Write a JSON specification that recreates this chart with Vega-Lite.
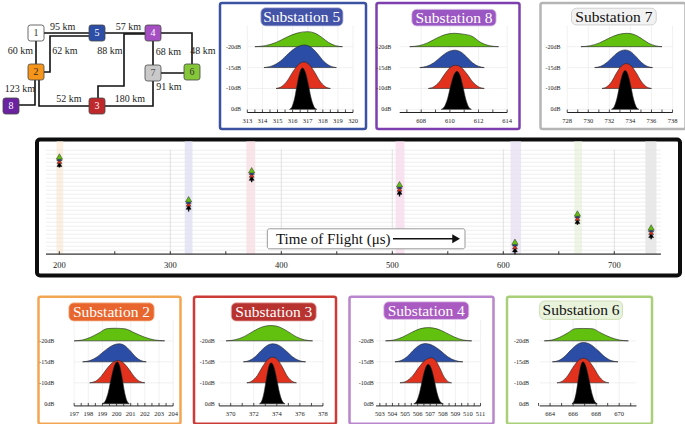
{
"$schema":"https://vega.github.io/schema/vega-lite/v6.json",
"background":"#ffffff",
"padding":{"left":0,"top":1,"right":0,"bottom":0},
"config":{"view":{"stroke":null},"font":"Liberation Serif"},
"datasets":{
"levels":[{"k":0,"lab":"0dB"},{"k":1,"lab":"-10dB"},{"k":2,"lab":"-15dB"},{"k":3,"lab":"-20dB"}],
"ticks":[
{"s":5,"t":313,"m":1},{"s":5,"t":313.5,"m":0},{"s":5,"t":314,"m":1},{"s":5,"t":314.5,"m":0},{"s":5,"t":315,"m":1},{"s":5,"t":315.5,"m":0},{"s":5,"t":316,"m":1},{"s":5,"t":316.5,"m":0},{"s":5,"t":317,"m":1},{"s":5,"t":317.5,"m":0},{"s":5,"t":318,"m":1},{"s":5,"t":318.5,"m":0},{"s":5,"t":319,"m":1},{"s":5,"t":319.5,"m":0},{"s":5,"t":320,"m":1},
{"s":8,"t":607,"m":0},{"s":8,"t":608,"m":1},{"s":8,"t":609,"m":0},{"s":8,"t":610,"m":1},{"s":8,"t":611,"m":0},{"s":8,"t":612,"m":1},{"s":8,"t":613,"m":0},{"s":8,"t":614,"m":1},
{"s":7,"t":728,"m":1},{"s":7,"t":729,"m":0},{"s":7,"t":730,"m":1},{"s":7,"t":731,"m":0},{"s":7,"t":732,"m":1},{"s":7,"t":733,"m":0},{"s":7,"t":734,"m":1},{"s":7,"t":735,"m":0},{"s":7,"t":736,"m":1},{"s":7,"t":737,"m":0},{"s":7,"t":738,"m":1},
{"s":2,"t":197,"m":1},{"s":2,"t":197.5,"m":0},{"s":2,"t":198,"m":1},{"s":2,"t":198.5,"m":0},{"s":2,"t":199,"m":1},{"s":2,"t":199.5,"m":0},{"s":2,"t":200,"m":1},{"s":2,"t":200.5,"m":0},{"s":2,"t":201,"m":1},{"s":2,"t":201.5,"m":0},{"s":2,"t":202,"m":1},{"s":2,"t":202.5,"m":0},{"s":2,"t":203,"m":1},{"s":2,"t":203.5,"m":0},{"s":2,"t":204,"m":1},
{"s":3,"t":369,"m":0},{"s":3,"t":370,"m":1},{"s":3,"t":371,"m":0},{"s":3,"t":372,"m":1},{"s":3,"t":373,"m":0},{"s":3,"t":374,"m":1},{"s":3,"t":375,"m":0},{"s":3,"t":376,"m":1},{"s":3,"t":377,"m":0},{"s":3,"t":378,"m":1},
{"s":4,"t":503,"m":1},{"s":4,"t":503.5,"m":0},{"s":4,"t":504,"m":1},{"s":4,"t":504.5,"m":0},{"s":4,"t":505,"m":1},{"s":4,"t":505.5,"m":0},{"s":4,"t":506,"m":1},{"s":4,"t":506.5,"m":0},{"s":4,"t":507,"m":1},{"s":4,"t":507.5,"m":0},{"s":4,"t":508,"m":1},{"s":4,"t":508.5,"m":0},{"s":4,"t":509,"m":1},{"s":4,"t":509.5,"m":0},{"s":4,"t":510,"m":1},{"s":4,"t":510.5,"m":0},{"s":4,"t":511,"m":1},
{"s":6,"t":663,"m":0},{"s":6,"t":664,"m":1},{"s":6,"t":665,"m":0},{"s":6,"t":666,"m":1},{"s":6,"t":667,"m":0},{"s":6,"t":668,"m":1},{"s":6,"t":669,"m":0},{"s":6,"t":670,"m":1},{"s":6,"t":671,"m":0}
],
"ridges":[
{"s":5,"c":"g","k":3,"x":313.5,"v":3},{"s":5,"c":"g","k":3,"x":314.2,"v":3.05},{"s":5,"c":"g","k":3,"x":314.9,"v":3.2},{"s":5,"c":"g","k":3,"x":315.6,"v":3.45},{"s":5,"c":"g","k":3,"x":316.3,"v":3.65},{"s":5,"c":"g","k":3,"x":317.0,"v":3.72},{"s":5,"c":"g","k":3,"x":317.46,"v":3.65},{"s":5,"c":"g","k":3,"x":317.92,"v":3.45},{"s":5,"c":"g","k":3,"x":318.38,"v":3.2},{"s":5,"c":"g","k":3,"x":318.84,"v":3.05},{"s":5,"c":"g","k":3,"x":319.3,"v":3},
{"s":5,"c":"b","k":2,"x":314.1,"v":2},{"s":5,"c":"b","k":2,"x":314.64,"v":2.08},{"s":5,"c":"b","k":2,"x":315.18,"v":2.3},{"s":5,"c":"b","k":2,"x":315.72,"v":2.67},{"s":5,"c":"b","k":2,"x":316.26,"v":2.97},{"s":5,"c":"b","k":2,"x":316.8,"v":3.08},{"s":5,"c":"b","k":2,"x":317.22,"v":2.97},{"s":5,"c":"b","k":2,"x":317.64,"v":2.67},{"s":5,"c":"b","k":2,"x":318.06,"v":2.3},{"s":5,"c":"b","k":2,"x":318.48,"v":2.08},{"s":5,"c":"b","k":2,"x":318.9,"v":2},
{"s":5,"c":"r","k":1,"x":314.9,"v":1},{"s":5,"c":"r","k":1,"x":315.27,"v":1.09},{"s":5,"c":"r","k":1,"x":315.64,"v":1.36},{"s":5,"c":"r","k":1,"x":316.01,"v":1.79},{"s":5,"c":"r","k":1,"x":316.38,"v":2.14},{"s":5,"c":"r","k":1,"x":316.75,"v":2.27},{"s":5,"c":"r","k":1,"x":317.1,"v":2.14},{"s":5,"c":"r","k":1,"x":317.45,"v":1.79},{"s":5,"c":"r","k":1,"x":317.8,"v":1.36},{"s":5,"c":"r","k":1,"x":318.15,"v":1.09},{"s":5,"c":"r","k":1,"x":318.5,"v":1},
{"s":5,"c":"k","k":0,"x":315.8,"v":0},{"s":5,"c":"k","k":0,"x":315.97,"v":0.14},{"s":5,"c":"k","k":0,"x":316.14,"v":0.55},{"s":5,"c":"k","k":0,"x":316.31,"v":1.23},{"s":5,"c":"k","k":0,"x":316.48,"v":1.78},{"s":5,"c":"k","k":0,"x":316.65,"v":1.98},{"s":5,"c":"k","k":0,"x":316.84,"v":1.78},{"s":5,"c":"k","k":0,"x":317.03,"v":1.23},{"s":5,"c":"k","k":0,"x":317.22,"v":0.55},{"s":5,"c":"k","k":0,"x":317.41,"v":0.14},{"s":5,"c":"k","k":0,"x":317.6,"v":0},
{"s":8,"c":"g","k":3,"x":607.2,"v":3},{"s":8,"c":"g","k":3,"x":607.82,"v":3.045},{"s":8,"c":"g","k":3,"x":608.44,"v":3.18},{"s":8,"c":"g","k":3,"x":609.06,"v":3.4},{"s":8,"c":"g","k":3,"x":609.68,"v":3.58},{"s":8,"c":"g","k":3,"x":610.3,"v":3.64},{"s":8,"c":"g","k":3,"x":610.92,"v":3.6},{"s":8,"c":"g","k":3,"x":611.54,"v":3.5},{"s":8,"c":"g","k":3,"x":612.16,"v":3.2},{"s":8,"c":"g","k":3,"x":612.78,"v":3.045},{"s":8,"c":"g","k":3,"x":613.4,"v":3},
{"s":8,"c":"b","k":2,"x":607.9,"v":2},{"s":8,"c":"b","k":2,"x":608.39,"v":2.06},{"s":8,"c":"b","k":2,"x":608.88,"v":2.23},{"s":8,"c":"b","k":2,"x":609.37,"v":2.51},{"s":8,"c":"b","k":2,"x":609.86,"v":2.75},{"s":8,"c":"b","k":2,"x":610.35,"v":2.83},{"s":8,"c":"b","k":2,"x":610.76,"v":2.75},{"s":8,"c":"b","k":2,"x":611.17,"v":2.51},{"s":8,"c":"b","k":2,"x":611.58,"v":2.23},{"s":8,"c":"b","k":2,"x":611.99,"v":2.06},{"s":8,"c":"b","k":2,"x":612.4,"v":2},
{"s":8,"c":"r","k":1,"x":608.5,"v":1},{"s":8,"c":"r","k":1,"x":608.88,"v":1.08},{"s":8,"c":"r","k":1,"x":609.26,"v":1.31},{"s":8,"c":"r","k":1,"x":609.64,"v":1.69},{"s":8,"c":"r","k":1,"x":610.02,"v":2.0},{"s":8,"c":"r","k":1,"x":610.4,"v":2.11},{"s":8,"c":"r","k":1,"x":610.8,"v":2.0},{"s":8,"c":"r","k":1,"x":611.2,"v":1.69},{"s":8,"c":"r","k":1,"x":611.6,"v":1.31},{"s":8,"c":"r","k":1,"x":612.0,"v":1.08},{"s":8,"c":"r","k":1,"x":612.4,"v":1},
{"s":8,"c":"k","k":0,"x":609.4,"v":0},{"s":8,"c":"k","k":0,"x":609.62,"v":0.13},{"s":8,"c":"k","k":0,"x":609.84,"v":0.51},{"s":8,"c":"k","k":0,"x":610.06,"v":1.13},{"s":8,"c":"k","k":0,"x":610.28,"v":1.64},{"s":8,"c":"k","k":0,"x":610.5,"v":1.82},{"s":8,"c":"k","k":0,"x":610.7,"v":1.64},{"s":8,"c":"k","k":0,"x":610.9,"v":1.13},{"s":8,"c":"k","k":0,"x":611.1,"v":0.51},{"s":8,"c":"k","k":0,"x":611.3,"v":0.13},{"s":8,"c":"k","k":0,"x":611.5,"v":0},
{"s":7,"c":"g","k":3,"x":729.3,"v":3},{"s":7,"c":"g","k":3,"x":730.18,"v":3.045},{"s":7,"c":"g","k":3,"x":731.06,"v":3.18},{"s":7,"c":"g","k":3,"x":731.94,"v":3.4},{"s":7,"c":"g","k":3,"x":732.82,"v":3.58},{"s":7,"c":"g","k":3,"x":733.7,"v":3.64},{"s":7,"c":"g","k":3,"x":734.36,"v":3.58},{"s":7,"c":"g","k":3,"x":735.02,"v":3.4},{"s":7,"c":"g","k":3,"x":735.68,"v":3.18},{"s":7,"c":"g","k":3,"x":736.34,"v":3.045},{"s":7,"c":"g","k":3,"x":737.0,"v":3},
{"s":7,"c":"b","k":2,"x":730.6,"v":2},{"s":7,"c":"b","k":2,"x":731.18,"v":2.06},{"s":7,"c":"b","k":2,"x":731.76,"v":2.24},{"s":7,"c":"b","k":2,"x":732.34,"v":2.52},{"s":7,"c":"b","k":2,"x":732.92,"v":2.76},{"s":7,"c":"b","k":2,"x":733.5,"v":2.84},{"s":7,"c":"b","k":2,"x":734.02,"v":2.76},{"s":7,"c":"b","k":2,"x":734.54,"v":2.52},{"s":7,"c":"b","k":2,"x":735.06,"v":2.24},{"s":7,"c":"b","k":2,"x":735.58,"v":2.06},{"s":7,"c":"b","k":2,"x":736.1,"v":2},
{"s":7,"c":"r","k":1,"x":731.3,"v":1},{"s":7,"c":"r","k":1,"x":731.76,"v":1.08},{"s":7,"c":"r","k":1,"x":732.22,"v":1.33},{"s":7,"c":"r","k":1,"x":732.68,"v":1.74},{"s":7,"c":"r","k":1,"x":733.14,"v":2.07},{"s":7,"c":"r","k":1,"x":733.6,"v":2.19},{"s":7,"c":"r","k":1,"x":734.08,"v":2.07},{"s":7,"c":"r","k":1,"x":734.56,"v":1.74},{"s":7,"c":"r","k":1,"x":735.04,"v":1.33},{"s":7,"c":"r","k":1,"x":735.52,"v":1.08},{"s":7,"c":"r","k":1,"x":736.0,"v":1},
{"s":7,"c":"k","k":0,"x":732.2,"v":0},{"s":7,"c":"k","k":0,"x":732.46,"v":0.13},{"s":7,"c":"k","k":0,"x":732.72,"v":0.52},{"s":7,"c":"k","k":0,"x":732.98,"v":1.15},{"s":7,"c":"k","k":0,"x":733.24,"v":1.67},{"s":7,"c":"k","k":0,"x":733.5,"v":1.86},{"s":7,"c":"k","k":0,"x":733.76,"v":1.67},{"s":7,"c":"k","k":0,"x":734.02,"v":1.15},{"s":7,"c":"k","k":0,"x":734.28,"v":0.52},{"s":7,"c":"k","k":0,"x":734.54,"v":0.13},{"s":7,"c":"k","k":0,"x":734.8,"v":0},
{"s":2,"c":"g","k":3,"x":197.0,"v":3},{"s":2,"c":"g","k":3,"x":197.58,"v":3.04},{"s":2,"c":"g","k":3,"x":198.16,"v":3.17},{"s":2,"c":"g","k":3,"x":198.74,"v":3.37},{"s":2,"c":"g","k":3,"x":199.32,"v":3.58},{"s":2,"c":"g","k":3,"x":199.9,"v":3.6},{"s":2,"c":"g","k":3,"x":200.6,"v":3.57},{"s":2,"c":"g","k":3,"x":201.3,"v":3.37},{"s":2,"c":"g","k":3,"x":202.0,"v":3.17},{"s":2,"c":"g","k":3,"x":202.7,"v":3.04},{"s":2,"c":"g","k":3,"x":203.4,"v":3},
{"s":2,"c":"b","k":2,"x":197.6,"v":2},{"s":2,"c":"b","k":2,"x":198.12,"v":2.06},{"s":2,"c":"b","k":2,"x":198.64,"v":2.24},{"s":2,"c":"b","k":2,"x":199.16,"v":2.53},{"s":2,"c":"b","k":2,"x":199.68,"v":2.77},{"s":2,"c":"b","k":2,"x":200.2,"v":2.86},{"s":2,"c":"b","k":2,"x":200.58,"v":2.77},{"s":2,"c":"b","k":2,"x":200.96,"v":2.53},{"s":2,"c":"b","k":2,"x":201.34,"v":2.24},{"s":2,"c":"b","k":2,"x":201.72,"v":2.06},{"s":2,"c":"b","k":2,"x":202.1,"v":2},
{"s":2,"c":"r","k":1,"x":198.1,"v":1},{"s":2,"c":"r","k":1,"x":198.5,"v":1.07},{"s":2,"c":"r","k":1,"x":198.9,"v":1.3},{"s":2,"c":"r","k":1,"x":199.3,"v":1.66},{"s":2,"c":"r","k":1,"x":199.7,"v":1.95},{"s":2,"c":"r","k":1,"x":200.1,"v":2.06},{"s":2,"c":"r","k":1,"x":200.48,"v":1.95},{"s":2,"c":"r","k":1,"x":200.86,"v":1.66},{"s":2,"c":"r","k":1,"x":201.24,"v":1.3},{"s":2,"c":"r","k":1,"x":201.62,"v":1.07},{"s":2,"c":"r","k":1,"x":202.0,"v":1},
{"s":2,"c":"k","k":0,"x":199.0,"v":0},{"s":2,"c":"k","k":0,"x":199.21,"v":0.14},{"s":2,"c":"k","k":0,"x":199.42,"v":0.56},{"s":2,"c":"k","k":0,"x":199.63,"v":1.24},{"s":2,"c":"k","k":0,"x":199.84,"v":1.8},{"s":2,"c":"k","k":0,"x":200.05,"v":2.0},{"s":2,"c":"k","k":0,"x":200.22,"v":1.8},{"s":2,"c":"k","k":0,"x":200.39,"v":1.24},{"s":2,"c":"k","k":0,"x":200.56,"v":0.56},{"s":2,"c":"k","k":0,"x":200.73,"v":0.14},{"s":2,"c":"k","k":0,"x":200.9,"v":0},
{"s":3,"c":"g","k":3,"x":369.6,"v":3},{"s":3,"c":"g","k":3,"x":370.38,"v":3.05},{"s":3,"c":"g","k":3,"x":371.16,"v":3.2},{"s":3,"c":"g","k":3,"x":371.94,"v":3.45},{"s":3,"c":"g","k":3,"x":372.72,"v":3.66},{"s":3,"c":"g","k":3,"x":373.5,"v":3.73},{"s":3,"c":"g","k":3,"x":374.22,"v":3.66},{"s":3,"c":"g","k":3,"x":374.94,"v":3.45},{"s":3,"c":"g","k":3,"x":375.66,"v":3.2},{"s":3,"c":"g","k":3,"x":376.38,"v":3.05},{"s":3,"c":"g","k":3,"x":377.1,"v":3},
{"s":3,"c":"b","k":2,"x":371.1,"v":2},{"s":3,"c":"b","k":2,"x":371.61,"v":2.06},{"s":3,"c":"b","k":2,"x":372.12,"v":2.24},{"s":3,"c":"b","k":2,"x":372.63,"v":2.53},{"s":3,"c":"b","k":2,"x":373.14,"v":2.77},{"s":3,"c":"b","k":2,"x":373.65,"v":2.86},{"s":3,"c":"b","k":2,"x":374.22,"v":2.77},{"s":3,"c":"b","k":2,"x":374.79,"v":2.53},{"s":3,"c":"b","k":2,"x":375.36,"v":2.24},{"s":3,"c":"b","k":2,"x":375.93,"v":2.06},{"s":3,"c":"b","k":2,"x":376.5,"v":2},
{"s":3,"c":"r","k":1,"x":371.4,"v":1},{"s":3,"c":"r","k":1,"x":371.85,"v":1.09},{"s":3,"c":"r","k":1,"x":372.3,"v":1.34},{"s":3,"c":"r","k":1,"x":372.75,"v":1.76},{"s":3,"c":"r","k":1,"x":373.2,"v":2.1},{"s":3,"c":"r","k":1,"x":373.65,"v":2.22},{"s":3,"c":"r","k":1,"x":374.06,"v":2.1},{"s":3,"c":"r","k":1,"x":374.47,"v":1.76},{"s":3,"c":"r","k":1,"x":374.88,"v":1.34},{"s":3,"c":"r","k":1,"x":375.29,"v":1.09},{"s":3,"c":"r","k":1,"x":375.7,"v":1},
{"s":3,"c":"k","k":0,"x":372.5,"v":0},{"s":3,"c":"k","k":0,"x":372.7,"v":0.14},{"s":3,"c":"k","k":0,"x":372.9,"v":0.55},{"s":3,"c":"k","k":0,"x":373.1,"v":1.21},{"s":3,"c":"k","k":0,"x":373.3,"v":1.76},{"s":3,"c":"k","k":0,"x":373.5,"v":1.95},{"s":3,"c":"k","k":0,"x":373.74,"v":1.76},{"s":3,"c":"k","k":0,"x":373.98,"v":1.21},{"s":3,"c":"k","k":0,"x":374.22,"v":0.55},{"s":3,"c":"k","k":0,"x":374.46,"v":0.14},{"s":3,"c":"k","k":0,"x":374.7,"v":0},
{"s":4,"c":"g","k":3,"x":503.45,"v":3},{"s":4,"c":"g","k":3,"x":504.13,"v":3.04},{"s":4,"c":"g","k":3,"x":504.81,"v":3.18},{"s":4,"c":"g","k":3,"x":505.49,"v":3.39},{"s":4,"c":"g","k":3,"x":506.17,"v":3.57},{"s":4,"c":"g","k":3,"x":506.85,"v":3.63},{"s":4,"c":"g","k":3,"x":507.54,"v":3.57},{"s":4,"c":"g","k":3,"x":508.23,"v":3.39},{"s":4,"c":"g","k":3,"x":508.92,"v":3.18},{"s":4,"c":"g","k":3,"x":509.61,"v":3.04},{"s":4,"c":"g","k":3,"x":510.3,"v":3},
{"s":4,"c":"b","k":2,"x":504.2,"v":2},{"s":4,"c":"b","k":2,"x":504.68,"v":2.06},{"s":4,"c":"b","k":2,"x":505.16,"v":2.24},{"s":4,"c":"b","k":2,"x":505.64,"v":2.54},{"s":4,"c":"b","k":2,"x":506.12,"v":2.78},{"s":4,"c":"b","k":2,"x":506.6,"v":2.87},{"s":4,"c":"b","k":2,"x":507.2,"v":2.78},{"s":4,"c":"b","k":2,"x":507.8,"v":2.54},{"s":4,"c":"b","k":2,"x":508.4,"v":2.24},{"s":4,"c":"b","k":2,"x":509.0,"v":2.06},{"s":4,"c":"b","k":2,"x":509.6,"v":2},
{"s":4,"c":"r","k":1,"x":504.6,"v":1},{"s":4,"c":"r","k":1,"x":505.1,"v":1.08},{"s":4,"c":"r","k":1,"x":505.6,"v":1.33},{"s":4,"c":"r","k":1,"x":506.1,"v":1.74},{"s":4,"c":"r","k":1,"x":506.6,"v":2.07},{"s":4,"c":"r","k":1,"x":507.1,"v":2.19},{"s":4,"c":"r","k":1,"x":507.42,"v":2.07},{"s":4,"c":"r","k":1,"x":507.74,"v":1.74},{"s":4,"c":"r","k":1,"x":508.06,"v":1.33},{"s":4,"c":"r","k":1,"x":508.38,"v":1.08},{"s":4,"c":"r","k":1,"x":508.7,"v":1},
{"s":4,"c":"k","k":0,"x":505.7,"v":0},{"s":4,"c":"k","k":0,"x":505.93,"v":0.13},{"s":4,"c":"k","k":0,"x":506.16,"v":0.53},{"s":4,"c":"k","k":0,"x":506.39,"v":1.17},{"s":4,"c":"k","k":0,"x":506.62,"v":1.69},{"s":4,"c":"k","k":0,"x":506.85,"v":1.88},{"s":4,"c":"k","k":0,"x":507.08,"v":1.69},{"s":4,"c":"k","k":0,"x":507.31,"v":1.17},{"s":4,"c":"k","k":0,"x":507.54,"v":0.53},{"s":4,"c":"k","k":0,"x":507.77,"v":0.13},{"s":4,"c":"k","k":0,"x":508.0,"v":0},
{"s":6,"c":"g","k":3,"x":663.5,"v":3},{"s":6,"c":"g","k":3,"x":664.17,"v":3.04},{"s":6,"c":"g","k":3,"x":664.84,"v":3.17},{"s":6,"c":"g","k":3,"x":665.51,"v":3.37},{"s":6,"c":"g","k":3,"x":666.18,"v":3.58},{"s":6,"c":"g","k":3,"x":666.85,"v":3.59},{"s":6,"c":"g","k":3,"x":667.64,"v":3.58},{"s":6,"c":"g","k":3,"x":668.43,"v":3.37},{"s":6,"c":"g","k":3,"x":669.22,"v":3.17},{"s":6,"c":"g","k":3,"x":670.01,"v":3.04},{"s":6,"c":"g","k":3,"x":670.8,"v":3},
{"s":6,"c":"b","k":2,"x":664.2,"v":2},{"s":6,"c":"b","k":2,"x":664.74,"v":2.06},{"s":6,"c":"b","k":2,"x":665.28,"v":2.26},{"s":6,"c":"b","k":2,"x":665.82,"v":2.57},{"s":6,"c":"b","k":2,"x":666.36,"v":2.83},{"s":6,"c":"b","k":2,"x":666.9,"v":2.92},{"s":6,"c":"b","k":2,"x":667.5,"v":2.83},{"s":6,"c":"b","k":2,"x":668.1,"v":2.57},{"s":6,"c":"b","k":2,"x":668.7,"v":2.26},{"s":6,"c":"b","k":2,"x":669.3,"v":2.06},{"s":6,"c":"b","k":2,"x":669.9,"v":2},
{"s":6,"c":"r","k":1,"x":664.6,"v":1},{"s":6,"c":"r","k":1,"x":665.06,"v":1.08},{"s":6,"c":"r","k":1,"x":665.52,"v":1.33},{"s":6,"c":"r","k":1,"x":665.98,"v":1.73},{"s":6,"c":"r","k":1,"x":666.44,"v":2.05},{"s":6,"c":"r","k":1,"x":666.9,"v":2.17},{"s":6,"c":"r","k":1,"x":667.34,"v":2.05},{"s":6,"c":"r","k":1,"x":667.78,"v":1.73},{"s":6,"c":"r","k":1,"x":668.22,"v":1.33},{"s":6,"c":"r","k":1,"x":668.66,"v":1.08},{"s":6,"c":"r","k":1,"x":669.1,"v":1},
{"s":6,"c":"k","k":0,"x":665.9,"v":0},{"s":6,"c":"k","k":0,"x":666.09,"v":0.14},{"s":6,"c":"k","k":0,"x":666.28,"v":0.56},{"s":6,"c":"k","k":0,"x":666.47,"v":1.24},{"s":6,"c":"k","k":0,"x":666.66,"v":1.8},{"s":6,"c":"k","k":0,"x":666.85,"v":2.0},{"s":6,"c":"k","k":0,"x":667.1,"v":1.8},{"s":6,"c":"k","k":0,"x":667.35,"v":1.24},{"s":6,"c":"k","k":0,"x":667.6,"v":0.56},{"s":6,"c":"k","k":0,"x":667.85,"v":0.14},{"s":6,"c":"k","k":0,"x":668.1,"v":0}
],
"bands":[{"s":"2","a":197.5,"b":203.5},{"s":"5","a":313,"b":320},{"s":"3","a":368.5,"b":376.5},{"s":"4","a":503,"b":511},{"s":"8","a":606.5,"b":616},{"s":"6","a":664,"b":671},{"s":"7","a":728,"b":738}],
"hgrid":[{"y":4},{"y":8},{"y":12},{"y":16},{"y":20},{"y":24},{"y":28},{"y":32},{"y":36},{"y":40},{"y":44},{"y":48},{"y":52},{"y":56},{"y":60},{"y":64},{"y":68},{"y":72},{"y":76},{"y":80},{"y":84},{"y":88},{"y":92},{"y":96},{"y":100},{"y":104}],
"mticks":[{"t":200,"m":1},{"t":250,"m":0},{"t":300,"m":1},{"t":350,"m":0},{"t":400,"m":1},{"t":450,"m":0},{"t":500,"m":1},{"t":550,"m":0},{"t":600,"m":1},{"t":650,"m":0},{"t":700,"m":1}],
"arrivals":[{"s":"2","t":200.1,"hi":98.7,"lo":86.7},{"s":"5","t":316.5,"hi":56,"lo":42.7},{"s":"3","t":373.3,"hi":85,"lo":72},{"s":"4","t":506.5,"hi":71,"lo":57.7},{"s":"8","t":610.5,"hi":13.4,"lo":0},{"s":"6","t":666.8,"hi":41.7,"lo":29.4},{"s":"7","t":733.2,"hi":27.7,"lo":15}],
"nodes":[{"n":"1","x":36,"y":30},{"n":"5","x":97,"y":30},{"n":"4","x":153,"y":30},{"n":"2","x":36,"y":69},{"n":"7","x":153,"y":70},{"n":"6","x":192,"y":69},{"n":"8","x":11,"y":103},{"n":"3","x":97,"y":103}],
"edges":[
{"e":"15","i":0,"x":36,"y":30},{"e":"15","i":1,"x":97,"y":30},
{"e":"54","i":0,"x":97,"y":30},{"e":"54","i":1,"x":153,"y":30},
{"e":"12","i":0,"x":36,"y":30},{"e":"12","i":1,"x":36,"y":69},
{"e":"25","i":0,"x":36,"y":69},{"e":"25","i":1,"x":50,"y":69},{"e":"25","i":2,"x":50,"y":33},{"e":"25","i":3,"x":97,"y":33},
{"e":"43","i":0,"x":153,"y":31},{"e":"43","i":1,"x":124,"y":31},{"e":"43","i":2,"x":124,"y":83},{"e":"43","i":3,"x":98,"y":83},{"e":"43","i":4,"x":98,"y":103},
{"e":"46","i":0,"x":153,"y":30},{"e":"46","i":1,"x":192,"y":30},{"e":"46","i":2,"x":192,"y":69},
{"e":"47","i":0,"x":153,"y":30},{"e":"47","i":1,"x":153,"y":70},
{"e":"76","i":0,"x":153,"y":70},{"e":"76","i":1,"x":192,"y":70},
{"e":"73","i":0,"x":153,"y":70},{"e":"73","i":1,"x":153,"y":103},{"e":"73","i":2,"x":97,"y":103},
{"e":"23","i":0,"x":39,"y":69},{"e":"23","i":1,"x":39,"y":103},{"e":"23","i":2,"x":97,"y":103},
{"e":"28","i":0,"x":35,"y":69},{"e":"28","i":1,"x":35,"y":102},{"e":"28","i":2,"x":11,"y":102}
],
"elabels":[{"t":"95 km","x":62.7,"y":24},{"t":"57 km","x":128.3,"y":24},{"t":"60 km","x":20.5,"y":47.5},{"t":"62 km","x":65,"y":47.5},{"t":"88 km","x":110,"y":47.5},{"t":"68 km","x":168.5,"y":49},{"t":"48 km","x":203,"y":47.5},{"t":"91 km","x":169,"y":84},{"t":"180 km","x":130,"y":96},{"t":"52 km","x":69,"y":96},{"t":"123 km","x":20,"y":86}]
},
"resolve":{"scale":{"color":"independent","fill":"independent"}},
"spacing":16.75,
"vconcat":[
{"spacing":6.5,"resolve":{"scale":{"color":"independent","fill":"independent"}},"vconcat":[
{"spacing":2,"resolve":{"scale":{"color":"independent","fill":"independent"}},"hconcat":[
{"width":214,"height":126,
"layer":[
{"data":{"name":"edges"},"mark":{"type":"line","color":"#111111","strokeWidth":1.6},
"encoding":{"x":{"field":"x","type":"quantitative","scale":{"domain":[0,214]},"axis":null},"y":{"field":"y","type":"quantitative","scale":{"domain":[0,126],"reverse":true},"axis":null},"detail":{"field":"e"},"order":{"field":"i"}}},
{"data":{"name":"nodes"},"mark":{"type":"point","shape":"M -0.7 -1 L 0.7 -1 Q 1 -1 1 -0.7 L 1 0.7 Q 1 1 0.7 1 L -0.7 1 Q -1 1 -1 0.7 L -1 -0.7 Q -1 -1 -0.7 -1 Z","size":256,"filled":true,"stroke":"#444444","strokeWidth":0.8,"opacity":1},
"encoding":{"x":{"field":"x","type":"quantitative","scale":{"domain":[0,214]},"axis":null},"y":{"field":"y","type":"quantitative","scale":{"domain":[0,126],"reverse":true},"axis":null},"fill":{"field":"n","type":"nominal","scale":{"domain":["1","2","3","4","5","6","7","8"],"range":["#ffffff","#f5951c","#c0292b","#a54fc3","#2c4ea6","#86c73a","#c9c9c9","#6a22a1"]},"legend":null}}},
{"data":{"name":"nodes"},"mark":{"type":"text","font":"Liberation Serif","fontSize":10,"baseline":"middle"},
"encoding":{"x":{"field":"x","type":"quantitative","scale":{"domain":[0,214]},"axis":null},"y":{"field":"y","type":"quantitative","scale":{"domain":[0,126],"reverse":true},"axis":null},"text":{"field":"n"},"color":{"field":"n","type":"nominal","scale":{"domain":["1","2","3","4","5","6","7","8"],"range":["#333333","#3a2a10","#ffffff","#ffffff","#ffffff","#333333","#555555","#ffffff"]},"legend":null}}},
{"data":{"name":"elabels"},"mark":{"type":"text","font":"Liberation Serif","fontSize":10,"color":"#222222","baseline":"middle"},
"encoding":{"x":{"field":"x","type":"quantitative","scale":{"domain":[0,214]},"axis":null},"y":{"field":"y","type":"quantitative","scale":{"domain":[0,126],"reverse":true},"axis":null},"text":{"field":"t"}}}
]},
{"spacing":17.5,"resolve":{"scale":{"color":"independent","fill":"independent"}},"hconcat":[
{"spacing":6.5,"resolve":{"scale":{"color":"independent","fill":"independent"}},"hconcat":[
{"width":146,"height":126,"view":{"stroke":"#3b52a3","strokeWidth":2.5,"cornerRadius":2,"fill":"#ffffff"},
"layer":[
{"data":{"name":"ticks"},"transform":[{"filter":"datum.s==5 && datum.m==1"}],"mark":{"type":"rule","color":"#ebebeb","strokeWidth":0.7},"encoding":{"x":{"field":"t","type":"quantitative","scale":{"domain":[311.19,320.86]},"axis":null},"y":{"datum":-0.15,"type":"quantitative","scale":{"domain":[-0.94,5.09]},"axis":null},"y2":{"datum":4.0}}},
{"data":{"name":"levels"},"mark":{"type":"rule","color":"#ebebeb","strokeWidth":0.7},"encoding":{"x":{"datum":313,"type":"quantitative","scale":{"domain":[311.19,320.86]},"axis":null},"x2":{"datum":320},"y":{"field":"k","type":"quantitative","scale":{"domain":[-0.94,5.09]},"axis":null}}},
{"data":{"name":"ridges"},"transform":[{"filter":"datum.s==5"}],"mark":{"type":"area","interpolate":"monotone","stroke":"#222222","strokeWidth":0.6},"encoding":{"x":{"field":"x","type":"quantitative","scale":{"domain":[311.19,320.86]},"axis":null},"y":{"field":"v","type":"quantitative","stack":null,"scale":{"domain":[-0.94,5.09]},"axis":null},"y2":{"field":"k"},"color":{"field":"c","type":"nominal","scale":{"domain":["g","b","r","k"],"range":["#62c00e","#2b4da6","#e2321e","#000000"]},"legend":null}}},
{"data":{"values":[{}]},"mark":{"type":"rule","color":"#222222","strokeWidth":1},"encoding":{"x":{"datum":313,"type":"quantitative","scale":{"domain":[311.19,320.86]},"axis":null},"x2":{"datum":320},"y":{"datum":-0.15,"type":"quantitative","scale":{"domain":[-0.94,5.09]},"axis":null}}},
{"data":{"name":"ticks"},"transform":[{"filter":"datum.s==5"}],"mark":{"type":"rule","color":"#222222","strokeWidth":0.8},"encoding":{"x":{"field":"t","type":"quantitative","scale":{"domain":[311.19,320.86]},"axis":null},"y":{"datum":-0.15,"type":"quantitative","scale":{"domain":[-0.94,5.09]},"axis":null},"y2":{"datum":-0.01}}},
{"data":{"name":"ticks"},"transform":[{"filter":"datum.s==5 && datum.m==1"}],"mark":{"type":"text","fontSize":6.5,"color":"#222222","baseline":"middle"},"encoding":{"x":{"field":"t","type":"quantitative","scale":{"domain":[311.19,320.86]},"axis":null},"y":{"datum":-0.556,"type":"quantitative","scale":{"domain":[-0.94,5.09]},"axis":null},"text":{"field":"t","type":"quantitative","format":"d"}}},
{"data":{"name":"levels"},"mark":{"type":"text","fontSize":6,"color":"#222222","align":"right","baseline":"middle"},"encoding":{"x":{"datum":312.58,"type":"quantitative","scale":{"domain":[311.19,320.86]},"axis":null},"y":{"field":"k","type":"quantitative","scale":{"domain":[-0.94,5.09]},"axis":null},"text":{"field":"lab"}}},
{"data":{"values":[{}]},"mark":{"type":"rect","cornerRadius":5,"fill":"#4354a8","stroke":"#c9cce6","strokeWidth":0.8},"encoding":{"x":{"datum":313.89,"type":"quantitative","scale":{"domain":[311.19,320.86]},"axis":null},"x2":{"datum":319.34},"y":{"datum":3.99,"type":"quantitative","scale":{"domain":[-0.94,5.09]},"axis":null},"y2":{"datum":4.865}}},
{"data":{"values":[{"t":"Substation 5"}]},"mark":{"type":"text","font":"Liberation Serif","fontSize":15.5,"color":"#ffffff","baseline":"middle"},"encoding":{"x":{"datum":316.6,"type":"quantitative","scale":{"domain":[311.19,320.86]},"axis":null},"y":{"datum":4.43,"type":"quantitative","scale":{"domain":[-0.94,5.09]},"axis":null},"text":{"field":"t"}}}
]},
{"width":143,"height":126,"view":{"stroke":"#7d3fae","strokeWidth":2.5,"cornerRadius":2,"fill":"#ffffff"},
"layer":[
{"data":{"name":"ticks"},"transform":[{"filter":"datum.s==8 && datum.m==1"}],"mark":{"type":"rule","color":"#ebebeb","strokeWidth":0.7},"encoding":{"x":{"field":"t","type":"quantitative","scale":{"domain":[604.88,614.86]},"axis":null},"y":{"datum":-0.15,"type":"quantitative","scale":{"domain":[-0.94,5.09]},"axis":null},"y2":{"datum":4.0}}},
{"data":{"name":"levels"},"mark":{"type":"rule","color":"#ebebeb","strokeWidth":0.7},"encoding":{"x":{"datum":606.5,"type":"quantitative","scale":{"domain":[604.88,614.86]},"axis":null},"x2":{"datum":614},"y":{"field":"k","type":"quantitative","scale":{"domain":[-0.94,5.09]},"axis":null}}},
{"data":{"name":"ridges"},"transform":[{"filter":"datum.s==8"}],"mark":{"type":"area","interpolate":"monotone","stroke":"#222222","strokeWidth":0.6},"encoding":{"x":{"field":"x","type":"quantitative","scale":{"domain":[604.88,614.86]},"axis":null},"y":{"field":"v","type":"quantitative","stack":null,"scale":{"domain":[-0.94,5.09]},"axis":null},"y2":{"field":"k"},"color":{"field":"c","type":"nominal","scale":{"domain":["g","b","r","k"],"range":["#62c00e","#2b4da6","#e2321e","#000000"]},"legend":null}}},
{"data":{"values":[{}]},"mark":{"type":"rule","color":"#222222","strokeWidth":1},"encoding":{"x":{"datum":606.5,"type":"quantitative","scale":{"domain":[604.88,614.86]},"axis":null},"x2":{"datum":614},"y":{"datum":-0.15,"type":"quantitative","scale":{"domain":[-0.94,5.09]},"axis":null}}},
{"data":{"name":"ticks"},"transform":[{"filter":"datum.s==8"}],"mark":{"type":"rule","color":"#222222","strokeWidth":0.8},"encoding":{"x":{"field":"t","type":"quantitative","scale":{"domain":[604.88,614.86]},"axis":null},"y":{"datum":-0.15,"type":"quantitative","scale":{"domain":[-0.94,5.09]},"axis":null},"y2":{"datum":-0.01}}},
{"data":{"name":"ticks"},"transform":[{"filter":"datum.s==8 && datum.m==1"}],"mark":{"type":"text","fontSize":6.5,"color":"#222222","baseline":"middle"},"encoding":{"x":{"field":"t","type":"quantitative","scale":{"domain":[604.88,614.86]},"axis":null},"y":{"datum":-0.556,"type":"quantitative","scale":{"domain":[-0.94,5.09]},"axis":null},"text":{"field":"t","type":"quantitative","format":"d"}}},
{"data":{"name":"levels"},"mark":{"type":"text","fontSize":6,"color":"#222222","align":"right","baseline":"middle"},"encoding":{"x":{"datum":605.91,"type":"quantitative","scale":{"domain":[604.88,614.86]},"axis":null},"y":{"field":"k","type":"quantitative","scale":{"domain":[-0.94,5.09]},"axis":null},"text":{"field":"lab"}}},
{"data":{"values":[{}]},"mark":{"type":"rect","cornerRadius":5,"fill":"#9a57c3","stroke":"#e0cdea","strokeWidth":0.8},"encoding":{"x":{"datum":607.34,"type":"quantitative","scale":{"domain":[604.88,614.86]},"axis":null},"x2":{"datum":613.23},"y":{"datum":3.99,"type":"quantitative","scale":{"domain":[-0.94,5.09]},"axis":null},"y2":{"datum":4.79}}},
{"data":{"values":[{"t":"Substation 8"}]},"mark":{"type":"text","font":"Liberation Serif","fontSize":15.5,"color":"#ffffff","baseline":"middle"},"encoding":{"x":{"datum":610.29,"type":"quantitative","scale":{"domain":[604.88,614.86]},"axis":null},"y":{"datum":4.39,"type":"quantitative","scale":{"domain":[-0.94,5.09]},"axis":null},"text":{"field":"t"}}}
]}
]},
{"width":145,"height":126,"view":{"stroke":"#b5b5b5","strokeWidth":2.5,"cornerRadius":2,"fill":"#ffffff"},
"layer":[
{"data":{"name":"ticks"},"transform":[{"filter":"datum.s==7 && datum.m==1"}],"mark":{"type":"rule","color":"#ebebeb","strokeWidth":0.7},"encoding":{"x":{"field":"t","type":"quantitative","scale":{"domain":[725.46,739.23]},"axis":null},"y":{"datum":-0.15,"type":"quantitative","scale":{"domain":[-0.94,5.09]},"axis":null},"y2":{"datum":4.0}}},
{"data":{"name":"levels"},"mark":{"type":"rule","color":"#ebebeb","strokeWidth":0.7},"encoding":{"x":{"datum":728,"type":"quantitative","scale":{"domain":[725.46,739.23]},"axis":null},"x2":{"datum":738},"y":{"field":"k","type":"quantitative","scale":{"domain":[-0.94,5.09]},"axis":null}}},
{"data":{"name":"ridges"},"transform":[{"filter":"datum.s==7"}],"mark":{"type":"area","interpolate":"monotone","stroke":"#222222","strokeWidth":0.6},"encoding":{"x":{"field":"x","type":"quantitative","scale":{"domain":[725.46,739.23]},"axis":null},"y":{"field":"v","type":"quantitative","stack":null,"scale":{"domain":[-0.94,5.09]},"axis":null},"y2":{"field":"k"},"color":{"field":"c","type":"nominal","scale":{"domain":["g","b","r","k"],"range":["#62c00e","#2b4da6","#e2321e","#000000"]},"legend":null}}},
{"data":{"values":[{}]},"mark":{"type":"rule","color":"#222222","strokeWidth":1},"encoding":{"x":{"datum":728,"type":"quantitative","scale":{"domain":[725.46,739.23]},"axis":null},"x2":{"datum":738},"y":{"datum":-0.15,"type":"quantitative","scale":{"domain":[-0.94,5.09]},"axis":null}}},
{"data":{"name":"ticks"},"transform":[{"filter":"datum.s==7"}],"mark":{"type":"rule","color":"#222222","strokeWidth":0.8},"encoding":{"x":{"field":"t","type":"quantitative","scale":{"domain":[725.46,739.23]},"axis":null},"y":{"datum":-0.15,"type":"quantitative","scale":{"domain":[-0.94,5.09]},"axis":null},"y2":{"datum":-0.01}}},
{"data":{"name":"ticks"},"transform":[{"filter":"datum.s==7 && datum.m==1"}],"mark":{"type":"text","fontSize":6.5,"color":"#222222","baseline":"middle"},"encoding":{"x":{"field":"t","type":"quantitative","scale":{"domain":[725.46,739.23]},"axis":null},"y":{"datum":-0.556,"type":"quantitative","scale":{"domain":[-0.94,5.09]},"axis":null},"text":{"field":"t","type":"quantitative","format":"d"}}},
{"data":{"name":"levels"},"mark":{"type":"text","fontSize":6,"color":"#222222","align":"right","baseline":"middle"},"encoding":{"x":{"datum":727.36,"type":"quantitative","scale":{"domain":[725.46,739.23]},"axis":null},"y":{"field":"k","type":"quantitative","scale":{"domain":[-0.94,5.09]},"axis":null},"text":{"field":"lab"}}},
{"data":{"values":[{}]},"mark":{"type":"rect","cornerRadius":5,"fill":"#f2f2f2","stroke":"#c8c8c8","strokeWidth":0.8},"encoding":{"x":{"datum":728.4,"type":"quantitative","scale":{"domain":[725.46,739.23]},"axis":null},"x2":{"datum":736.45},"y":{"datum":4.04,"type":"quantitative","scale":{"domain":[-0.94,5.09]},"axis":null},"y2":{"datum":4.84}}},
{"data":{"values":[{"t":"Substation 7"}]},"mark":{"type":"text","font":"Liberation Serif","fontSize":15.5,"color":"#111111","baseline":"middle"},"encoding":{"x":{"datum":732.43,"type":"quantitative","scale":{"domain":[725.46,739.23]},"axis":null},"y":{"datum":4.44,"type":"quantitative","scale":{"domain":[-0.94,5.09]},"axis":null},"text":{"field":"t"}}}
]}
]}
]},
{"spacing":10,"resolve":{"scale":{"color":"independent","fill":"independent"}},"hconcat":[
{"width":25,"height":10,"data":{"values":[{}]},"mark":{"type":"point","opacity":0},"encoding":{}},
{"width":643,"height":136,"view":{"stroke":"#0d0d0d","strokeWidth":4,"cornerRadius":3,"fill":"#ffffff"},
"layer":[
{"data":{"name":"bands"},"mark":{"type":"rect"},"encoding":{"x":{"field":"a","type":"quantitative","scale":{"domain":[179.9,759.2]},"axis":null},"x2":{"field":"b"},"y":{"datum":0,"type":"quantitative","scale":{"domain":[-21.3,114.7]},"axis":null},"y2":{"datum":112.7},"color":{"field":"s","type":"nominal","scale":{"domain":["2","5","3","4","8","6","7"],"range":["#fdf0e0","#e6e6f8","#fbe5e9","#fbe2f2","#ece6f7","#eff6e6","#e9e9e9"]},"legend":null}}},
{"data":{"name":"hgrid"},"mark":{"type":"rule","color":"#e4e4e4","strokeWidth":0.6},"encoding":{"x":{"datum":188,"type":"quantitative","scale":{"domain":[179.9,759.2]},"axis":null},"x2":{"datum":742},"y":{"field":"y","type":"quantitative","scale":{"domain":[-21.3,114.7]},"axis":null}}},
{"data":{"name":"mticks"},"transform":[{"filter":"datum.m==1 && datum.t>200"}],"mark":{"type":"rule","color":"#d6d6d6","strokeWidth":0.7},"encoding":{"x":{"field":"t","type":"quantitative","scale":{"domain":[179.9,759.2]},"axis":null},"y":{"datum":0,"type":"quantitative","scale":{"domain":[-21.3,114.7]},"axis":null},"y2":{"datum":104.7}}},
{"data":{"values":[{}]},"mark":{"type":"rule","color":"#333333","strokeWidth":1.2},"encoding":{"x":{"datum":188,"type":"quantitative","scale":{"domain":[179.9,759.2]},"axis":null},"x2":{"datum":742},"y":{"datum":0,"type":"quantitative","scale":{"domain":[-21.3,114.7]},"axis":null}}},
{"data":{"name":"mticks"},"mark":{"type":"rule","color":"#333333","strokeWidth":1},"encoding":{"x":{"field":"t","type":"quantitative","scale":{"domain":[179.9,759.2]},"axis":null},"y":{"datum":0,"type":"quantitative","scale":{"domain":[-21.3,114.7]},"axis":null},"y2":{"datum":3}}},
{"data":{"name":"mticks"},"transform":[{"filter":"datum.m==1"}],"mark":{"type":"text","fontSize":8.5,"color":"#222222","baseline":"middle"},"encoding":{"x":{"field":"t","type":"quantitative","scale":{"domain":[179.9,759.2]},"axis":null},"y":{"datum":-10.6,"type":"quantitative","scale":{"domain":[-21.3,114.7]},"axis":null},"text":{"field":"t","type":"quantitative","format":"d"}}},
{"data":{"name":"arrivals"},"mark":{"type":"rule","color":"#111111","strokeWidth":1.4},"encoding":{"x":{"field":"t","type":"quantitative","scale":{"domain":[179.9,759.2]},"axis":null},"y":{"field":"lo","type":"quantitative","scale":{"domain":[-21.3,114.7]},"axis":null},"y2":{"field":"hi"}}},
{"data":{"name":"arrivals"},"mark":{"type":"point","shape":"triangle-up","filled":true,"size":24,"fill":"#000000","stroke":"#000000","strokeWidth":0.5,"opacity":1,"yOffset":9},"encoding":{"x":{"field":"t","type":"quantitative","scale":{"domain":[179.9,759.2]},"axis":null},"y":{"field":"hi","type":"quantitative","scale":{"domain":[-21.3,114.7]},"axis":null}}},
{"data":{"name":"arrivals"},"mark":{"type":"point","shape":"triangle-up","filled":true,"size":24,"fill":"#e2321e","stroke":"#222222","strokeWidth":0.5,"opacity":1,"yOffset":6},"encoding":{"x":{"field":"t","type":"quantitative","scale":{"domain":[179.9,759.2]},"axis":null},"y":{"field":"hi","type":"quantitative","scale":{"domain":[-21.3,114.7]},"axis":null}}},
{"data":{"name":"arrivals"},"mark":{"type":"point","shape":"triangle-up","filled":true,"size":26,"fill":"#2b4da6","stroke":"#222222","strokeWidth":0.5,"opacity":1,"yOffset":3},"encoding":{"x":{"field":"t","type":"quantitative","scale":{"domain":[179.9,759.2]},"axis":null},"y":{"field":"hi","type":"quantitative","scale":{"domain":[-21.3,114.7]},"axis":null}}},
{"data":{"name":"arrivals"},"mark":{"type":"point","shape":"triangle-up","filled":true,"size":40,"fill":"#62c00e","stroke":"#333333","strokeWidth":0.5,"opacity":1,"yOffset":1},"encoding":{"x":{"field":"t","type":"quantitative","scale":{"domain":[179.9,759.2]},"axis":null},"y":{"field":"hi","type":"quantitative","scale":{"domain":[-21.3,114.7]},"axis":null}}},
{"data":{"values":[{}]},"mark":{"type":"rect","fill":"#ffffff","stroke":"#999999","strokeWidth":1,"cornerRadius":2},"encoding":{"x":{"datum":387.4,"type":"quantitative","scale":{"domain":[179.9,759.2]},"axis":null},"x2":{"datum":565.5},"y":{"datum":5.4,"type":"quantitative","scale":{"domain":[-21.3,114.7]},"axis":null},"y2":{"datum":25.4}}},
{"data":{"values":[{"t":"Time of Flight (μs)"}]},"mark":{"type":"text","font":"Liberation Serif","fontSize":15,"color":"#111111","align":"left","baseline":"middle"},"encoding":{"x":{"datum":395.2,"type":"quantitative","scale":{"domain":[179.9,759.2]},"axis":null},"y":{"datum":15.4,"type":"quantitative","scale":{"domain":[-21.3,114.7]},"axis":null},"text":{"field":"t"}}},
{"data":{"values":[{}]},"mark":{"type":"rule","color":"#111111","strokeWidth":1.5},"encoding":{"x":{"datum":500.6,"type":"quantitative","scale":{"domain":[179.9,759.2]},"axis":null},"x2":{"datum":556},"y":{"datum":15.4,"type":"quantitative","scale":{"domain":[-21.3,114.7]},"axis":null}}},
{"data":{"values":[{}]},"mark":{"type":"point","shape":"triangle-right","filled":true,"size":80,"fill":"#111111","opacity":1},"encoding":{"x":{"datum":557.5,"type":"quantitative","scale":{"domain":[179.9,759.2]},"axis":null},"y":{"datum":15.4,"type":"quantitative","scale":{"domain":[-21.3,114.7]},"axis":null}}}
]}
]}
]},
{"spacing":9.5,"resolve":{"scale":{"color":"independent","fill":"independent"}},"hconcat":[
{"width":26.25,"height":10,"data":{"values":[{}]},"mark":{"type":"point","opacity":0},"encoding":{}},
{"width":142,"height":127,"view":{"stroke":"#f2a654","strokeWidth":2.5,"cornerRadius":2,"fill":"#ffffff"},
"layer":[
{"data":{"name":"ticks"},"transform":[{"filter":"datum.s==2 && datum.m==1"}],"mark":{"type":"rule","color":"#ebebeb","strokeWidth":0.7},"encoding":{"x":{"field":"t","type":"quantitative","scale":{"domain":[194.48,204.52]},"axis":null},"y":{"datum":-0.1,"type":"quantitative","scale":{"domain":[-0.95,5.1]},"axis":null},"y2":{"datum":4.0}}},
{"data":{"name":"levels"},"mark":{"type":"rule","color":"#ebebeb","strokeWidth":0.7},"encoding":{"x":{"datum":197,"type":"quantitative","scale":{"domain":[194.48,204.52]},"axis":null},"x2":{"datum":204},"y":{"field":"k","type":"quantitative","scale":{"domain":[-0.95,5.1]},"axis":null}}},
{"data":{"name":"ridges"},"transform":[{"filter":"datum.s==2"}],"mark":{"type":"area","interpolate":"monotone","stroke":"#222222","strokeWidth":0.6},"encoding":{"x":{"field":"x","type":"quantitative","scale":{"domain":[194.48,204.52]},"axis":null},"y":{"field":"v","type":"quantitative","stack":null,"scale":{"domain":[-0.95,5.1]},"axis":null},"y2":{"field":"k"},"color":{"field":"c","type":"nominal","scale":{"domain":["g","b","r","k"],"range":["#62c00e","#2b4da6","#e2321e","#000000"]},"legend":null}}},
{"data":{"values":[{}]},"mark":{"type":"rule","color":"#222222","strokeWidth":1},"encoding":{"x":{"datum":197,"type":"quantitative","scale":{"domain":[194.48,204.52]},"axis":null},"x2":{"datum":204},"y":{"datum":-0.1,"type":"quantitative","scale":{"domain":[-0.95,5.1]},"axis":null}}},
{"data":{"name":"ticks"},"transform":[{"filter":"datum.s==2"}],"mark":{"type":"rule","color":"#222222","strokeWidth":0.8},"encoding":{"x":{"field":"t","type":"quantitative","scale":{"domain":[194.48,204.52]},"axis":null},"y":{"datum":-0.1,"type":"quantitative","scale":{"domain":[-0.95,5.1]},"axis":null},"y2":{"datum":0.04}}},
{"data":{"name":"ticks"},"transform":[{"filter":"datum.s==2 && datum.m==1"}],"mark":{"type":"text","fontSize":6.5,"color":"#222222","baseline":"middle"},"encoding":{"x":{"field":"t","type":"quantitative","scale":{"domain":[194.48,204.52]},"axis":null},"y":{"datum":-0.505,"type":"quantitative","scale":{"domain":[-0.95,5.1]},"axis":null},"text":{"field":"t","type":"quantitative","format":"d"}}},
{"data":{"name":"levels"},"mark":{"type":"text","fontSize":6,"color":"#222222","align":"right","baseline":"middle"},"encoding":{"x":{"datum":195.59,"type":"quantitative","scale":{"domain":[194.48,204.52]},"axis":null},"y":{"field":"k","type":"quantitative","scale":{"domain":[-0.95,5.1]},"axis":null},"text":{"field":"lab"}}},
{"data":{"values":[{}]},"mark":{"type":"rect","cornerRadius":5,"fill":"#e8652d","stroke":"#f6c9a8","strokeWidth":0.8},"encoding":{"x":{"datum":196.62,"type":"quantitative","scale":{"domain":[194.48,204.52]},"axis":null},"x2":{"datum":202.66},"y":{"datum":3.94,"type":"quantitative","scale":{"domain":[-0.95,5.1]},"axis":null},"y2":{"datum":4.81}}},
{"data":{"values":[{"t":"Substation 2"}]},"mark":{"type":"text","font":"Liberation Serif","fontSize":15.5,"color":"#ffffff","baseline":"middle"},"encoding":{"x":{"datum":199.64,"type":"quantitative","scale":{"domain":[194.48,204.52]},"axis":null},"y":{"datum":4.38,"type":"quantitative","scale":{"domain":[-0.95,5.1]},"axis":null},"text":{"field":"t"}}}
]},
{"width":142,"height":127,"view":{"stroke":"#cc3b35","strokeWidth":2.5,"cornerRadius":2,"fill":"#ffffff"},
"layer":[
{"data":{"name":"ticks"},"transform":[{"filter":"datum.s==3 && datum.m==1"}],"mark":{"type":"rule","color":"#ebebeb","strokeWidth":0.7},"encoding":{"x":{"field":"t","type":"quantitative","scale":{"domain":[366.82,379.13]},"axis":null},"y":{"datum":-0.1,"type":"quantitative","scale":{"domain":[-0.95,5.1]},"axis":null},"y2":{"datum":4.0}}},
{"data":{"name":"levels"},"mark":{"type":"rule","color":"#ebebeb","strokeWidth":0.7},"encoding":{"x":{"datum":369,"type":"quantitative","scale":{"domain":[366.82,379.13]},"axis":null},"x2":{"datum":378},"y":{"field":"k","type":"quantitative","scale":{"domain":[-0.95,5.1]},"axis":null}}},
{"data":{"name":"ridges"},"transform":[{"filter":"datum.s==3"}],"mark":{"type":"area","interpolate":"monotone","stroke":"#222222","strokeWidth":0.6},"encoding":{"x":{"field":"x","type":"quantitative","scale":{"domain":[366.82,379.13]},"axis":null},"y":{"field":"v","type":"quantitative","stack":null,"scale":{"domain":[-0.95,5.1]},"axis":null},"y2":{"field":"k"},"color":{"field":"c","type":"nominal","scale":{"domain":["g","b","r","k"],"range":["#62c00e","#2b4da6","#e2321e","#000000"]},"legend":null}}},
{"data":{"values":[{}]},"mark":{"type":"rule","color":"#222222","strokeWidth":1},"encoding":{"x":{"datum":369,"type":"quantitative","scale":{"domain":[366.82,379.13]},"axis":null},"x2":{"datum":378},"y":{"datum":-0.1,"type":"quantitative","scale":{"domain":[-0.95,5.1]},"axis":null}}},
{"data":{"name":"ticks"},"transform":[{"filter":"datum.s==3"}],"mark":{"type":"rule","color":"#222222","strokeWidth":0.8},"encoding":{"x":{"field":"t","type":"quantitative","scale":{"domain":[366.82,379.13]},"axis":null},"y":{"datum":-0.1,"type":"quantitative","scale":{"domain":[-0.95,5.1]},"axis":null},"y2":{"datum":0.04}}},
{"data":{"name":"ticks"},"transform":[{"filter":"datum.s==3 && datum.m==1"}],"mark":{"type":"text","fontSize":6.5,"color":"#222222","baseline":"middle"},"encoding":{"x":{"field":"t","type":"quantitative","scale":{"domain":[366.82,379.13]},"axis":null},"y":{"datum":-0.505,"type":"quantitative","scale":{"domain":[-0.95,5.1]},"axis":null},"text":{"field":"t","type":"quantitative","format":"d"}}},
{"data":{"name":"levels"},"mark":{"type":"text","fontSize":6,"color":"#222222","align":"right","baseline":"middle"},"encoding":{"x":{"datum":368.61,"type":"quantitative","scale":{"domain":[366.82,379.13]},"axis":null},"y":{"field":"k","type":"quantitative","scale":{"domain":[-0.95,5.1]},"axis":null},"text":{"field":"lab"}}},
{"data":{"values":[{}]},"mark":{"type":"rect","cornerRadius":5,"fill":"#b83230","stroke":"#e8b5b3","strokeWidth":0.8},"encoding":{"x":{"datum":370.05,"type":"quantitative","scale":{"domain":[366.82,379.13]},"axis":null},"x2":{"datum":377.42},"y":{"datum":3.94,"type":"quantitative","scale":{"domain":[-0.95,5.1]},"axis":null},"y2":{"datum":4.81}}},
{"data":{"values":[{"t":"Substation 3"}]},"mark":{"type":"text","font":"Liberation Serif","fontSize":15.5,"color":"#ffffff","baseline":"middle"},"encoding":{"x":{"datum":373.74,"type":"quantitative","scale":{"domain":[366.82,379.13]},"axis":null},"y":{"datum":4.38,"type":"quantitative","scale":{"domain":[-0.95,5.1]},"axis":null},"text":{"field":"t"}}}
]},
{"width":144,"height":127,"view":{"stroke":"#b985cc","strokeWidth":2.5,"cornerRadius":2,"fill":"#ffffff"},
"layer":[
{"data":{"name":"ticks"},"transform":[{"filter":"datum.s==4 && datum.m==1"}],"mark":{"type":"rule","color":"#ebebeb","strokeWidth":0.7},"encoding":{"x":{"field":"t","type":"quantitative","scale":{"domain":[500.59,512.03]},"axis":null},"y":{"datum":-0.1,"type":"quantitative","scale":{"domain":[-0.95,5.1]},"axis":null},"y2":{"datum":4.0}}},
{"data":{"name":"levels"},"mark":{"type":"rule","color":"#ebebeb","strokeWidth":0.7},"encoding":{"x":{"datum":502.7,"type":"quantitative","scale":{"domain":[500.59,512.03]},"axis":null},"x2":{"datum":511},"y":{"field":"k","type":"quantitative","scale":{"domain":[-0.95,5.1]},"axis":null}}},
{"data":{"name":"ridges"},"transform":[{"filter":"datum.s==4"}],"mark":{"type":"area","interpolate":"monotone","stroke":"#222222","strokeWidth":0.6},"encoding":{"x":{"field":"x","type":"quantitative","scale":{"domain":[500.59,512.03]},"axis":null},"y":{"field":"v","type":"quantitative","stack":null,"scale":{"domain":[-0.95,5.1]},"axis":null},"y2":{"field":"k"},"color":{"field":"c","type":"nominal","scale":{"domain":["g","b","r","k"],"range":["#62c00e","#2b4da6","#e2321e","#000000"]},"legend":null}}},
{"data":{"values":[{}]},"mark":{"type":"rule","color":"#222222","strokeWidth":1},"encoding":{"x":{"datum":502.7,"type":"quantitative","scale":{"domain":[500.59,512.03]},"axis":null},"x2":{"datum":511},"y":{"datum":-0.1,"type":"quantitative","scale":{"domain":[-0.95,5.1]},"axis":null}}},
{"data":{"name":"ticks"},"transform":[{"filter":"datum.s==4"}],"mark":{"type":"rule","color":"#222222","strokeWidth":0.8},"encoding":{"x":{"field":"t","type":"quantitative","scale":{"domain":[500.59,512.03]},"axis":null},"y":{"datum":-0.1,"type":"quantitative","scale":{"domain":[-0.95,5.1]},"axis":null},"y2":{"datum":0.04}}},
{"data":{"name":"ticks"},"transform":[{"filter":"datum.s==4 && datum.m==1"}],"mark":{"type":"text","fontSize":6.5,"color":"#222222","baseline":"middle"},"encoding":{"x":{"field":"t","type":"quantitative","scale":{"domain":[500.59,512.03]},"axis":null},"y":{"datum":-0.505,"type":"quantitative","scale":{"domain":[-0.95,5.1]},"axis":null},"text":{"field":"t","type":"quantitative","format":"d"}}},
{"data":{"name":"levels"},"mark":{"type":"text","fontSize":6,"color":"#222222","align":"right","baseline":"middle"},"encoding":{"x":{"datum":502.52,"type":"quantitative","scale":{"domain":[500.59,512.03]},"axis":null},"y":{"field":"k","type":"quantitative","scale":{"domain":[-0.95,5.1]},"axis":null},"text":{"field":"lab"}}},
{"data":{"values":[{}]},"mark":{"type":"rect","cornerRadius":5,"fill":"#a95bc2","stroke":"#e2cdea","strokeWidth":0.8},"encoding":{"x":{"datum":503.31,"type":"quantitative","scale":{"domain":[500.59,512.03]},"axis":null},"x2":{"datum":510.07},"y":{"datum":4.02,"type":"quantitative","scale":{"domain":[-0.95,5.1]},"axis":null},"y2":{"datum":4.86}}},
{"data":{"values":[{"t":"Substation 4"}]},"mark":{"type":"text","font":"Liberation Serif","fontSize":15.5,"color":"#ffffff","baseline":"middle"},"encoding":{"x":{"datum":506.69,"type":"quantitative","scale":{"domain":[500.59,512.03]},"axis":null},"y":{"datum":4.44,"type":"quantitative","scale":{"domain":[-0.95,5.1]},"axis":null},"text":{"field":"t"}}}
]},
{"width":145,"height":127,"view":{"stroke":"#a9cf78","strokeWidth":2.5,"cornerRadius":2,"fill":"#ffffff"},
"layer":[
{"data":{"name":"ticks"},"transform":[{"filter":"datum.s==6 && datum.m==1"}],"mark":{"type":"rule","color":"#ebebeb","strokeWidth":0.7},"encoding":{"x":{"field":"t","type":"quantitative","scale":{"domain":[660.26,672.85]},"axis":null},"y":{"datum":-0.1,"type":"quantitative","scale":{"domain":[-0.95,5.1]},"axis":null},"y2":{"datum":4.0}}},
{"data":{"name":"levels"},"mark":{"type":"rule","color":"#ebebeb","strokeWidth":0.7},"encoding":{"x":{"datum":663.1,"type":"quantitative","scale":{"domain":[660.26,672.85]},"axis":null},"x2":{"datum":671.5},"y":{"field":"k","type":"quantitative","scale":{"domain":[-0.95,5.1]},"axis":null}}},
{"data":{"name":"ridges"},"transform":[{"filter":"datum.s==6"}],"mark":{"type":"area","interpolate":"monotone","stroke":"#222222","strokeWidth":0.6},"encoding":{"x":{"field":"x","type":"quantitative","scale":{"domain":[660.26,672.85]},"axis":null},"y":{"field":"v","type":"quantitative","stack":null,"scale":{"domain":[-0.95,5.1]},"axis":null},"y2":{"field":"k"},"color":{"field":"c","type":"nominal","scale":{"domain":["g","b","r","k"],"range":["#62c00e","#2b4da6","#e2321e","#000000"]},"legend":null}}},
{"data":{"values":[{}]},"mark":{"type":"rule","color":"#222222","strokeWidth":1},"encoding":{"x":{"datum":663.1,"type":"quantitative","scale":{"domain":[660.26,672.85]},"axis":null},"x2":{"datum":671.5},"y":{"datum":-0.1,"type":"quantitative","scale":{"domain":[-0.95,5.1]},"axis":null}}},
{"data":{"name":"ticks"},"transform":[{"filter":"datum.s==6"}],"mark":{"type":"rule","color":"#222222","strokeWidth":0.8},"encoding":{"x":{"field":"t","type":"quantitative","scale":{"domain":[660.26,672.85]},"axis":null},"y":{"datum":-0.1,"type":"quantitative","scale":{"domain":[-0.95,5.1]},"axis":null},"y2":{"datum":0.04}}},
{"data":{"name":"ticks"},"transform":[{"filter":"datum.s==6 && datum.m==1"}],"mark":{"type":"text","fontSize":6.5,"color":"#222222","baseline":"middle"},"encoding":{"x":{"field":"t","type":"quantitative","scale":{"domain":[660.26,672.85]},"axis":null},"y":{"datum":-0.505,"type":"quantitative","scale":{"domain":[-0.95,5.1]},"axis":null},"text":{"field":"t","type":"quantitative","format":"d"}}},
{"data":{"name":"levels"},"mark":{"type":"text","fontSize":6,"color":"#222222","align":"right","baseline":"middle"},"encoding":{"x":{"datum":662.17,"type":"quantitative","scale":{"domain":[660.26,672.85]},"axis":null},"y":{"field":"k","type":"quantitative","scale":{"domain":[-0.95,5.1]},"axis":null},"text":{"field":"lab"}}},
{"data":{"values":[{}]},"mark":{"type":"rect","cornerRadius":5,"fill":"#e9f3dc","stroke":"#c5d9a8","strokeWidth":0.8},"encoding":{"x":{"datum":663.09,"type":"quantitative","scale":{"domain":[660.26,672.85]},"axis":null},"x2":{"datum":670.29},"y":{"datum":4.02,"type":"quantitative","scale":{"domain":[-0.95,5.1]},"axis":null},"y2":{"datum":4.9}}},
{"data":{"values":[{"t":"Substation 6"}]},"mark":{"type":"text","font":"Liberation Serif","fontSize":15.5,"color":"#111111","baseline":"middle"},"encoding":{"x":{"datum":666.69,"type":"quantitative","scale":{"domain":[660.26,672.85]},"axis":null},"y":{"datum":4.46,"type":"quantitative","scale":{"domain":[-0.95,5.1]},"axis":null},"text":{"field":"t"}}}
]}
]}
]
}
